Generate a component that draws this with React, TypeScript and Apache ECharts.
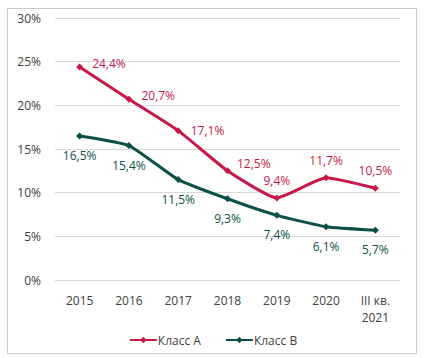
import React, { useEffect, useRef } from "react";
import * as echarts from "echarts";

const categories = ["2015", "2016", "2017", "2018", "2019", "2020", "III кв.\n2021"];
const classA = [24.4, 20.7, 17.1, 12.5, 9.4, 11.7, 10.5];
const classB = [16.5, 15.4, 11.5, 9.3, 7.4, 6.1, 5.7];
const seriesNames = ["Класс А", "Класс В"];
const yTicks = { min: 0, max: 30, interval: 5 };

const RED = "#C8184A";
const TEAL = "#0D4F49";
const FONT = "'Open Sans', 'Noto Sans', sans-serif";

const fmt = (v: number) => v.toFixed(1).replace(".", ",") + "%";

export default function App() {
  const ref = useRef<HTMLDivElement>(null);
  useEffect(() => {
    if (!ref.current) return;
    const chart = echarts.init(ref.current, undefined, { renderer: "svg" });
    const aPos = ["right", "right", "right", "right", "top", "top", "top"];
    const aOffset = [[0, -3], [0, -4], [0, 0], [-3, -7], [0, 0], [0, 0], [0, 0]];
    chart.setOption({
      animation: false,
      textStyle: { fontFamily: FONT },
      graphic: [
        {
          type: "rect",
          shape: { x: 7.5, y: 8.5, width: 409, height: 345 },
          style: { fill: "none", stroke: "#c8c8c8", lineWidth: 1 },
          silent: true,
        },
      ],
      grid: { left: 55, right: 26, top: 18, bottom: 78 },
      legend: {
        left: "center",
        top: 329,
        itemWidth: 27,
        itemHeight: 8,
        itemGap: 24,
        textStyle: { color: "#404040", fontSize: 12, fontFamily: FONT, padding: [0, 0, 0, -4] },
        data: seriesNames,
      },
      xAxis: {
        type: "category",
        data: categories,
        boundaryGap: true,
        axisLine: { show: false },
        axisTick: { show: false },
        axisLabel: { color: "#404040", fontSize: 12, margin: 12, lineHeight: 17, fontFamily: FONT },
      },
      yAxis: {
        type: "value",
        min: yTicks.min,
        max: yTicks.max,
        interval: yTicks.interval,
        axisLabel: { color: "#404040", fontSize: 12, margin: 14, formatter: "{value}%", fontFamily: FONT },
        splitLine: { lineStyle: { color: "#d9d9d9", width: 1 } },
        axisLine: { show: false },
        axisTick: { show: false },
      },
      series: [
        {
          name: seriesNames[0],
          type: "line",
          smooth: 0.15,
          symbol: "diamond",
          symbolSize: 7,
          color: RED,
          lineStyle: { width: 3, color: RED },
          itemStyle: { color: RED },
          data: classA.map((v, i) => ({
            value: v,
            label: {
              show: true,
              position: aPos[i],
              distance: aPos[i] === "top" ? 8 : 9,
              offset: aOffset[i],
              color: RED,
              fontSize: 12,
              fontFamily: FONT,
              formatter: () => fmt(v),
            },
          })),
        },
        {
          name: seriesNames[1],
          type: "line",
          smooth: 0.15,
          symbol: "diamond",
          symbolSize: 7,
          color: TEAL,
          lineStyle: { width: 3, color: TEAL },
          itemStyle: { color: TEAL },
          data: classB.map((v) => ({
            value: v,
            label: {
              show: true,
              position: "bottom",
              distance: 10,
              color: TEAL,
              fontSize: 12,
              fontFamily: FONT,
              formatter: () => fmt(v),
            },
          })),
        },
      ],
    });
    return () => chart.dispose();
  }, []);
  return (
    <div
      ref={ref}
      style={{ position: "fixed", left: 0, top: 0, width: 426, height: 358, background: "#fff" }}
    />
  );
}
